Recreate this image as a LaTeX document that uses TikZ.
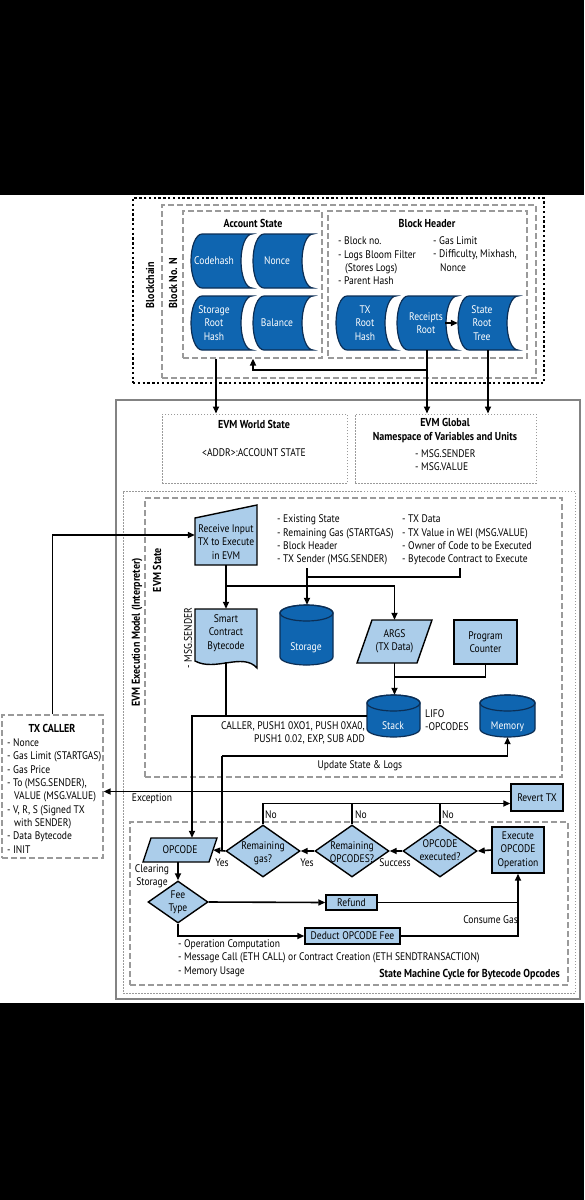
\documentclass[tikz,border=0pt]{standalone}
\usepackage{fontspec}
\setmainfont{PT Sans}[FakeStretch=0.87]
\usetikzlibrary{arrows.meta,shapes.geometric,calc,fit}
\definecolor{dblue}{HTML}{0F65B0}
\definecolor{dline}{HTML}{0B2E55}
\definecolor{lblue}{HTML}{ABCDEA}
\definecolor{gline}{HTML}{9A9A9A}
\newcommand\fs{\fontsize{11}{13.3}\selectfont}
\newcommand\fbold{\fontsize{11.5}{14}\selectfont\bfseries}
\tikzset{
 txt/.style={font=\fs, inner sep=0pt, align=left},
 ctxt/.style={font=\fs, inner sep=0pt, align=center},
 btxt/.style={font=\fbold, inner sep=0pt, align=center},
 wtxt/.style={font=\fs, inner sep=0pt, align=center, text=white},
 conn/.style={line width=1.6pt, draw=black},
 arr/.style={conn, -{Triangle[length=7pt,width=6pt]}},
 dashbox/.style={draw=gline, line width=1.2pt, dash pattern=on 6pt off 3pt},
 dotbox/.style={draw=gline, line width=1pt, dash pattern=on 1.5pt off 1.5pt},
 chainbox/.style={draw=black, line width=2.4pt, dash pattern=on 2.4pt off 2.4pt},
 lbox/.style={draw=black, line width=1.4pt, fill=lblue, font=\fs, align=center, inner sep=1pt},
 dshape/.style={fill=dblue, draw=dline, line width=1.2pt},
 lshape/.style={fill=lblue, draw=black, line width=1.4pt},
 anchorbox/.style={inner sep=0pt, draw=none},
 dia/.style={diamond, lshape, inner sep=0pt},
}
\newcommand\hdrum[5]{%
 \node[anchorbox, fit={(#2,#3) (#4,#5)}] (#1) {};
 \pgfmathsetmacro\hym{(#3+#5)/2}
 \pgfmathsetmacro\hky{0.552*(#5-#3)/2}
 \path[dshape] ({#2+11},#5) .. controls ({#2+4.93},#5) and (#2,{\hym+\hky}) .. (#2,\hym) .. controls (#2,{\hym-\hky}) and ({#2+4.93},#3) .. ({#2+11},#3) -- (#4,#3) .. controls ({#4-6.07},#3) and ({#4-11},{\hym-\hky}) .. ({#4-11},\hym) .. controls ({#4-11},{\hym+\hky}) and ({#4-6.07},#5) .. (#4,#5) -- cycle;
}
\newcommand\vcyl[5]{%
 \node[anchorbox, fit={(#2,#3) (#4,#5)}] (#1) {};
 \pgfmathsetmacro\vcx{(#2+#4)/2}
 \pgfmathsetmacro\vkx{0.552*(#4-#2)/2}
 \path[dshape] (#2,{#3+8}) -- (#2,{#5-8}) .. controls (#2,{#5-3.58}) and ({\vcx-\vkx},#5) .. (\vcx,#5) .. controls ({\vcx+\vkx},#5) and (#4,{#5-3.58}) .. (#4,{#5-8}) -- (#4,{#3+8}) .. controls (#4,{#3+3.58}) and ({\vcx+\vkx},#3) .. (\vcx,#3) .. controls ({\vcx-\vkx},#3) and (#2,{#3+3.58}) .. (#2,{#3+8}) -- cycle;
 \draw[draw=dline, line width=1.2pt] (\vcx,{#3+8}) ellipse [x radius={(#4-#2)/2}, y radius=8];
}
\begin{document}
\begin{tikzpicture}[x=1pt,y=-1pt]
\useasboundingbox (0,0) rectangle (584,1200);
\fill[white] (0,0) rectangle (584,1200);
\fill[black] (0,0) rectangle (584,195);
\fill[black] (0,1003) rectangle (584,1200);

% ---------- frames ----------
\node[chainbox, inner sep=0pt, fit={(133,198) (544,383)}] (chain) {};
\node[dashbox, inner sep=0pt, fit={(162,205) (536,378)}] (blockn) {};
\node[dashbox, inner sep=0pt, fit={(183,211) (322,358)}] (acct) {};
\node[dashbox, inner sep=0pt, fit={(328,211) (527,358)}] (bh) {};
\node[draw=gline!85!black, line width=1.2pt, inner sep=0pt, fit={(116,400) (580,999)}] (outer) {};
\node[dotbox, inner sep=0pt, fit={(162,414) (347,483)}] (ws) {};
\node[dotbox, inner sep=0pt, fit={(355,414) (536,483)}] (gl) {};
\node[dotbox, inner sep=0pt, fit={(123,491) (575,993)}] (exec) {};
\node[dashbox, inner sep=0pt, fit={(145,498) (562,777)}] (evms) {};
\node[dashbox, inner sep=0pt, fit={(130,822) (568,985)}] (smc) {};
\node[dashbox, inner sep=0pt, fit={(2,715) (103,858)}] (txc) {};

% ---------- blockchain ----------
\node[btxt, rotate=90] (tchain) at (150,285) {Blockchain};
\node[btxt, rotate=90] (tblock) at (173,283) {Block No. N};
\node[btxt] (tacct) at (253,223) {Account State};
\node[btxt] (tbh) at (427,223) {Block Header};
\node[txt, anchor=west] (bhl) at (338,261) {- Block no.\\- Logs Bloom Filter\\\hspace*{7pt}(Stores Logs)\\- Parent Hash};
\node[txt, anchor=west] (bhr) at (433,254) {- Gas Limit\\- Difficulty, Mixhash,\\\hspace*{7pt}Nonce};

\hdrum{ch}{191}{234}{252}{288}
\hdrum{no}{253}{234}{313}{288}
\hdrum{sr}{191}{296}{252}{350}
\hdrum{ba}{253}{296}{313}{350}
\hdrum{tx}{336}{296}{396}{350}
\hdrum{rr}{397}{296}{457}{350}
\hdrum{st}{458}{296}{518}{350}
\node[wtxt] (tch) at (214,261) {Codehash};
\node[wtxt] (tno) at (277,261) {Nonce};
\node[wtxt] (tsr) at (214,323) {Storage\\Root\\Hash};
\node[wtxt] (tba) at (277,323) {Balance};
\node[wtxt] (ttx) at (365,323) {TX\\Root\\Hash};
\node[wtxt] (trr) at (426,323) {Receipts\\Root};
\node[wtxt] (tst) at (482,323) {State\\Root\\Tree};
\draw[arr] ([xshift=-12pt]rr.east) -- (st.west);

% ---------- top connectors ----------
\coordinate (c216) at (216,0);
\coordinate (c253) at (253,0);
\coordinate (j1) at (427,370);
\draw[arr] (acct.south -| c216) -- (ws.north -| c216);
\draw[arr] (rr.south) -- (rr.south |- gl.north);
\draw[arr] (j1) -| (acct.south -| c253);
\draw[arr] (st.south) -- (st.south |- gl.north);

% ---------- world state / global ----------
\node[btxt] (tws) at (254,424) {EVM World State};
\node[ctxt] (tws2) at (254,453) {<ADDR>:ACCOUNT STATE};
\node[btxt] (tgl) at (445,431) {EVM Global\\Namespace of Variables and Units};
\node[txt, anchor=west] (tgl2) at (415,460) {- MSG.SENDER\\- MSG.VALUE};

% ---------- execution model ----------
\node[btxt, rotate=90] (texec) at (137,632) {EVM Execution Model (Interpreter)};
\node[btxt, rotate=90] (tevms) at (157,570) {EVM State};

\node[anchorbox, fit={(195,505) (257,565)}] (ri) {};
\path[lshape] (195,518) -- (257,505) -- (257,565) -- (195,565) -- cycle;
\node[ctxt] (tri) at (226,542) {Receive Input\\TX to Execute\\in EVM};

\node[txt, anchor=west] (l1txt) at (277,540) {- Existing State\\- Remaining Gas (STARTGAS)\\- Block Header\\- TX Sender (MSG.SENDER)};
\node[txt, anchor=west] (l2txt) at (402,540) {- TX Data\\- TX Value in WEI (MSG.VALUE)\\- Owner of Code to be Executed\\- Bytecode Contract to Execute};

\node[anchorbox, fit={(195,609) (257,666)}] (sc) {};
\path[lshape] (195,609) -- (257,609) -- (257,668) .. controls (243,652) and (215,672) .. (195,661) -- cycle;
\node[ctxt] (tsc) at (226,633) {Smart\\Contract\\Bytecode};
\node[ctxt, rotate=90] (tmsg) at (188,638) {- MSG.SENDER};

\vcyl{sto}{280}{605}{333}{665}
\node[wtxt] (tsto) at (306,648) {Storage};

\node[anchorbox, fit={(357,620) (432,663)}] (args) {};
\path[lshape] (372,620) -- (432,620) -- (417,663) -- (357,663) -- cycle;
\node[ctxt] (targs) at (394.5,641) {ARGS\\(TX Data)};

\node[lbox, minimum width=63pt, minimum height=44pt] (pc) at (485.5,642) {Program\\Counter};

\vcyl{stack}{367}{695}{420}{737}
\node[wtxt] (tstack) at (393,726) {Stack};
\node[txt, anchor=west] (tlifo) at (425,720) {LIFO\\-OPCODES};
\vcyl{mem}{480}{695}{535}{737}
\node[wtxt] (tmem) at (507.5,727) {Memory};
\node[font=\fs, inner sep=0pt, align=right, anchor=east] (tcaller) at (365,733) {CALLER, PUSH1 0XO1, PUSH 0XA0,\\PUSH1 0.02, EXP, SUB ADD};

% ---------- TX caller ----------
\node[btxt] (ttxc) at (52,728) {TX CALLER};
\node[txt, anchor=west] (ttxcl) at (7,796) {- Nonce\\- Gas Limit (STARTGAS)\\- Gas Price\\- To (MSG.SENDER),\\\hspace*{7pt}VALUE (MSG.VALUE)\\- V, R, S (Signed TX\\\hspace*{7pt}with SENDER)\\- Data Bytecode\\- INIT};

% ---------- state machine ----------
\node[lbox, minimum width=52pt, minimum height=27pt] (rev) at (537,797.5) {Revert TX};
\node[lbox, minimum width=52pt, minimum height=46pt] (exe) at (518,850) {Execute\\OPCODE\\Operation};
\node[lbox, minimum width=51pt, minimum height=15pt, inner sep=0pt] (ref) at (351.5,902.5) {Refund};
\node[lbox, minimum width=95pt, minimum height=16pt, inner sep=0pt] (ded) at (352.5,936) {Deduct OPCODE Fee};

\node[dia, minimum width=74pt, minimum height=52pt] (rg) at (263,851) {};
\node[dia, minimum width=74pt, minimum height=52pt] (ro) at (352,851) {};
\node[dia, minimum width=74pt, minimum height=52pt] (oe) at (440,851) {};
\node[dia, minimum width=60pt, minimum height=42pt] (ft) at (178,902) {};
\node[ctxt] (trg) at (263,853) {Remaining\\gas?};
\node[ctxt] (tro) at (352,852) {Remaining\\OPCODES?};
\node[ctxt] (toe) at (440,850) {OPCODE\\executed?};
\node[ctxt] (tft) at (178,902) {Fee\\Type};

\node[anchorbox, fit={(143,838) (213,862)}] (opc) {};
\path[lshape] (151,838) -- (217,838) -- (209,862) -- (143,862) -- cycle;
\node[ctxt] (topc) at (180,850) {OPCODE};

% ---------- connectors (middle) ----------
\coordinate (l1) at (307,568);
\coordinate (l2) at (460,568);
\coordinate (l3) at (307,577);
\coordinate (l4) at (226,586);
\coordinate (l5) at (394.5,677);
\coordinate (l6) at (226,662);
\coordinate (c192) at (192,0);
\coordinate (u1) at (222,756);
\draw[arr] (txc.north) |- (ri.west);
\draw[arr] (l1) -- (l1 |- sto.north);
\draw[conn] (l2) |- (l3);
\draw[arr] (ri.south) -- (sc.north);
\draw[arr] (l4) -| (args.north);
\draw[arr] (args.south) -- (args.south |- stack.north);
\draw[conn] (pc.south) |- (l5);
\draw[conn] (l6) -- (l6 |- stack.west);
\draw[arr] (stack.west) -| (c192 |- opc.north);
\draw[arr] (u1) -| (mem.south);
\draw[conn] (u1) -- (u1 |- opc.east);
\node[ctxt] (tupd) at (360,766) {Update State \& Logs};

% ---------- connectors (state machine) ----------
\coordinate (rv) at ([yshift=-6pt]rev.west);
\coordinate (ex) at ([yshift=6pt]rev.west);
\draw[arr] (ex) -- (ex -| txc.east);
\node[ctxt] (texc) at (152,799) {Exception};
\draw[arr] (rg.north) |- (rv);
\draw[conn] (ro.north) -- (ro.north |- rv);
\draw[conn] (oe.north) -- (oe.north |- rv);
\node[ctxt] (no1) at (271,815) {No};
\node[ctxt] (no2) at (361,815) {No};
\node[ctxt] (no3) at (448,815) {No};
\draw[arr] (rg.west) -- (opc.east);
\draw[arr] (ro.west) -- (rg.east);
\draw[arr] (oe.west) -- (ro.east);
\draw[arr] (exe.west) -- (oe.east);
\node[ctxt] (yes1) at (222,863) {Yes};
\node[ctxt] (yes2) at (307,863) {Yes};
\node[ctxt] (succ) at (395,863) {Success};
\draw[arr] (opc.south) -- (ft.north);
\node[ctxt] (tclr) at (152,876) {Clearing\\Storage};
\draw[arr] (ft.east) -- (ref.west);
\draw[arr] (ft.south) |- (ded.west);
\draw[arr] (ref.east) -| (exe.south);
\draw[conn] (ded.east) -| (ref.east -| exe.south);
\node[font=\fs, inner sep=0pt, anchor=east] (tcg) at (518,920) {Consume Gas};
\node[txt, anchor=west] (tfee) at (178,958) {- Operation Computation\\- Message Call (ETH CALL) or Contract Creation (ETH SENDTRANSACTION)\\- Memory Usage};
\node[btxt, anchor=east] (tsmc) at (560,975) {State Machine Cycle for Bytecode Opcodes};
\end{tikzpicture}
\end{document}
